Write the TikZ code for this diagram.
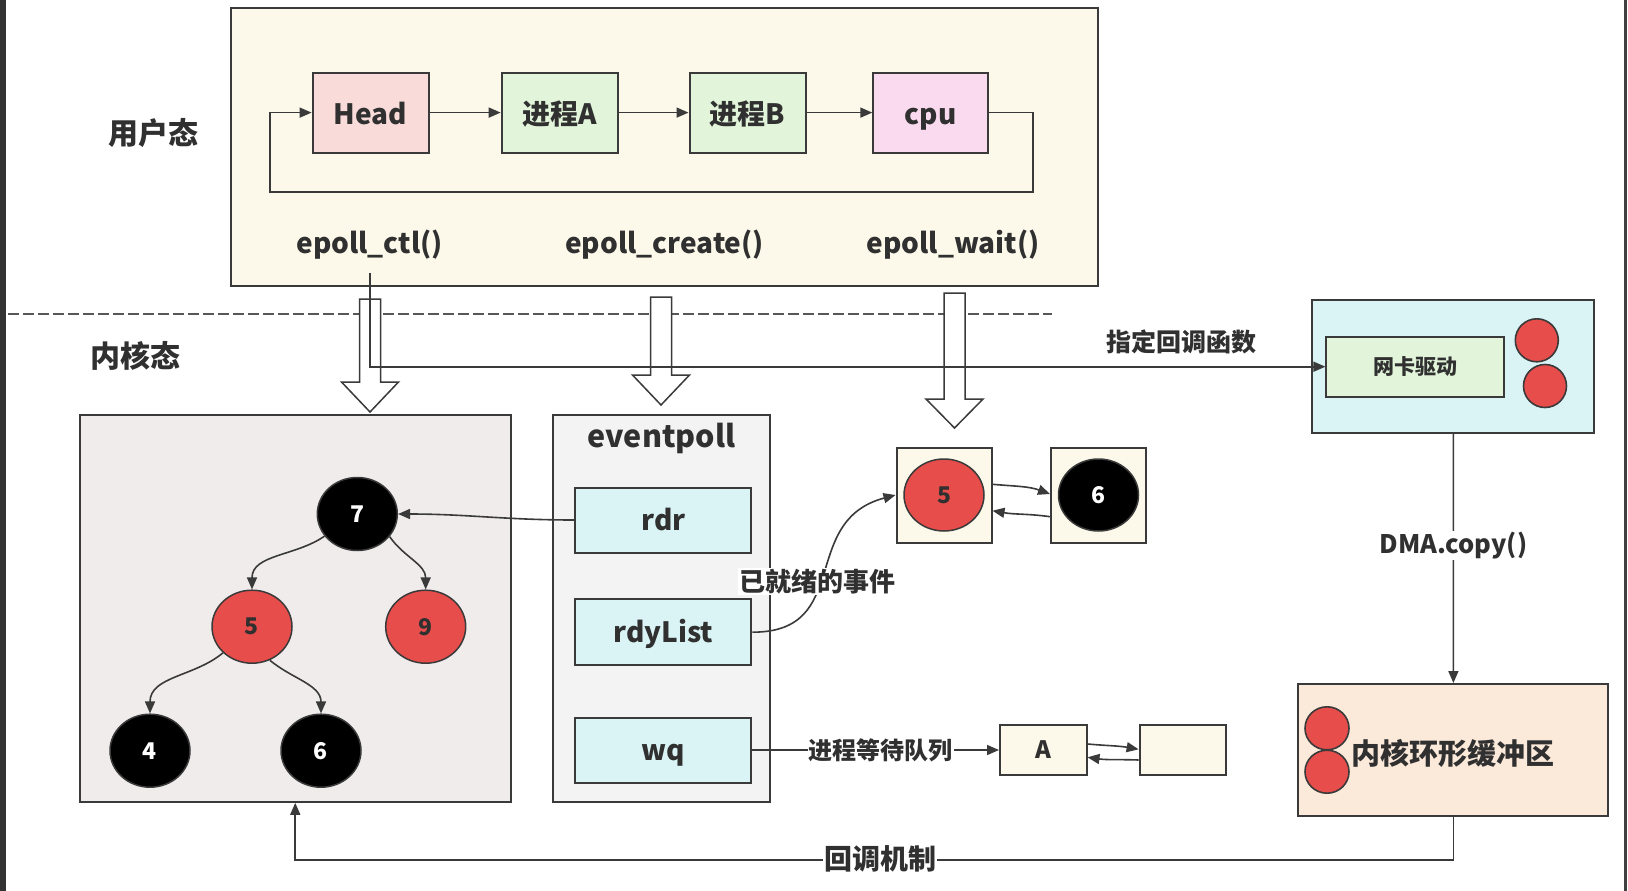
\documentclass[tikz,border=0pt]{standalone}
\usepackage{fontspec}
\setmainfont{Noto Sans CJK SC}
\usepackage{tikz}
\usetikzlibrary{arrows.meta,shapes.geometric}

\definecolor{linegray}{HTML}{3A3A3A}
\definecolor{textgray}{HTML}{303030}
\definecolor{usercream}{HTML}{FCF9EA}
\definecolor{headpink}{HTML}{F9DBD9}
\definecolor{procgreen}{HTML}{E2F5DA}
\definecolor{cpupink}{HTML}{FADAEF}
\definecolor{treegray}{HTML}{F0ECEC}
\definecolor{pollgray}{HTML}{F3F3F3}
\definecolor{fieldcyan}{HTML}{DAF4F6}
\definecolor{rbred}{HTML}{E64D4B}
\definecolor{ringpeach}{HTML}{FBE9DA}

\tikzset{
  fs/.style={font=\bfseries\fontsize{#1}{#1}\selectfont},
  boxed/.style={draw=linegray, line width=2pt, rectangle, inner sep=0pt, text=textgray},
  procbox/.style={boxed, minimum width=116pt, minimum height=80pt, fs=28, text height=22.8pt, text depth=0pt},
  field/.style={boxed, fill=fieldcyan, minimum width=176pt, minimum height=65pt, fs=28, text height=20pt, text depth=0pt},
  rbnode/.style={ellipse, draw=linegray, line width=1.5pt, minimum width=80pt, minimum height=73pt, inner sep=0pt, fs=23},
  rbblack/.style={rbnode, fill=black, text=white},
  rbredn/.style={rbnode, fill=rbred, text=textgray},
  reddot/.style={ellipse, draw=linegray, line width=1.6pt, fill=rbred, inner sep=0pt, minimum width=43pt, minimum height=43pt},
  conn/.style={draw=linegray, line width=1.6pt, -{Triangle[length=12pt,width=10pt]}},
  lbl/.style={text=textgray, inner sep=1pt},
}

\begin{document}
\begin{tikzpicture}[x=1pt,y=-1pt]
\useasboundingbox (0,0) rectangle (1628,891);
\fill[white] (0,0) rectangle (1628,891);
\fill[black!80] (0,0) rectangle (6,891);
\fill[black!75] (1624,0) rectangle (1627,891);

% user space
\node[boxed, fill=usercream, minimum width=867pt, minimum height=277pt] (user) at (664,147) {};
\node[procbox, fill=headpink] (head) at (370.6,112.6) {Head};
\node[procbox, fill=procgreen] (procA) at (559.7,112.6) {进程A};
\node[procbox, fill=procgreen] (procB) at (747.5,112.6) {进程B};
\node[procbox, fill=cpupink, minimum width=115pt] (cpu) at (930.8,112.6) {cpu};
\foreach \a/\b in {head/procA,procA/procB,procB/cpu}
  \draw[conn] (\a) -- (\b);
\coordinate (loopr) at (1033,192);
\coordinate (loopl) at (270,192);
\draw[conn] (cpu.east) -| (loopr) -- (loopl) |- (head.west);

\node[lbl, fs=28] (ctl) at (369.6,245) {epoll\_ctl()};
\node[lbl, fs=28] (create) at (664.5,245) {epoll\_create()};
\node[lbl, fs=28] (wait) at (953.2,245) {epoll\_wait()};

\node[lbl, fs=30] (userlbl) at (153.7,133) {用户态};
\node[lbl, fs=30] (kernlbl) at (135,356) {内核态};

\draw[linegray!85, line width=2pt, dash pattern=on 11pt off 4pt] (8.3,313.6) -- (1052,313.6);

% hollow arrows
\foreach \cx/\yt/\yh/\yp in {370/299/382/412, 661/297/375/405, 954.5/293/399/428}
  \draw[linegray, line width=1.5pt, fill=white]
    (\cx-10.5,\yt) -- (\cx+10.5,\yt) -- (\cx+10.5,\yh) -- (\cx+28.5,\yh)
    -- (\cx,\yp) -- (\cx-28.5,\yh) -- (\cx-10.5,\yh) -- cycle;

% network card
\node[boxed, fill=fieldcyan, minimum width=282pt, minimum height=133pt] (netbox) at (1453.3,366) {};
\node[boxed, fill=procgreen, minimum width=178pt, minimum height=60pt, fs=21] (nic) at (1415.4,366.7) {网卡驱动};
\node[reddot] (nicdota) at (1536.8,340.3) {};
\node[reddot] (nicdotb) at (1545,386) {};
\coordinate (ctlfoot) at (370,273);
\draw[conn] (ctlfoot) |- (nic.west);
\node[lbl, fs=25] (cblbl) at (1181,342) {指定回调函数};

% ring buffer
\node[boxed, fill=ringpeach, minimum width=310pt, minimum height=132pt] (ring) at (1453.4,750) {};
\node[reddot, minimum width=44pt] (ringdota) at (1327,728.3) {};
\node[reddot, minimum width=44pt] (ringdotb) at (1327,771.7) {};
\node[lbl, fs=29] (ringlbl) at (1453,753) {内核环形缓冲区};
\draw[conn] (netbox.south) -- (ring.north) node[pos=0.45, fill=white, lbl, fs=25.5] (dma) {DMA.copy()};

% red-black tree
\node[boxed, fill=treegray, minimum width=431pt, minimum height=387pt] (tree) at (295.25,608.35) {};
\node[rbblack] (t7) at (357.3,514) {7};
\node[rbredn] (t5) at (252,626.7) {5};
\node[rbredn] (t9) at (425.7,626.7) {9};
\node[rbblack] (t4) at (150,750.7) {4};
\node[rbblack] (t6) at (321,750.7) {6};
\draw[conn] (t7.214) to[out=215,in=90] (t5.north);
\draw[conn] (t7.-35) to[out=-55,in=90] (t9.north);
\draw[conn] (t5.222) to[out=220,in=90] (t4.north);
\draw[conn] (t5.-62) to[out=-40,in=90] (t6.north);

% eventpoll
\node[boxed, fill=pollgray, minimum width=217pt, minimum height=387pt] (poll) at (661.7,608.35) {};
\node[lbl, fs=30.5, anchor=base] (polllbl) at (661.7,447) {eventpoll};
\node[field] (rdr) at (663.35,520) {rdr};
\node[field, minimum height=66pt] (rdy) at (663.35,632.2) {rdyList};
\node[field] (wq) at (663.35,750) {wq};
\draw[conn] (rdr.west) to[out=180,in=0] (t7.east);

% ready list
\node[boxed, fill=usercream, minimum width=95pt, minimum height=95pt] (rbox5) at (944,495) {};
\node[boxed, fill=usercream, minimum width=95pt, minimum height=95pt] (rbox6) at (1098.5,495) {};
\node[rbredn, minimum height=72pt] (r5) at (rbox5) {5};
\node[rbblack, minimum height=72pt] (r6) at (rbox6) {6};
\draw[conn] ([yshift=10.7pt]rbox5.east) to[out=-5,in=160] ([yshift=1pt]rbox6.west);
\draw[conn] ([yshift=-21.7pt]rbox6.west) to[out=172,in=-10] ([yshift=-15.7pt]rbox5.east);
\draw[conn] (rdy.east) to[out=0,in=195,looseness=1.3] (rbox5.west);
\node[lbl, fill=white, fs=26] (readylbl) at (817,581.4) {已就绪的事件};

% wait queue
\node[boxed, fill=usercream, minimum width=86.5pt, minimum height=50pt, fs=24] (qa) at (1043.25,750) {A};
\node[boxed, fill=usercream, minimum width=86pt, minimum height=50pt] (qe) at (1182.6,750) {};
\draw[conn] (wq.east) -- (qa.west) node[pos=0.52, fill=white, lbl, fs=24] (wqlbl) {进程等待队列};
\draw[conn] ([yshift=6pt]qa.east) to[out=-5,in=170] ([yshift=0.7pt]qe.west);
\draw[conn] ([yshift=-10pt]qe.west) to[out=178,in=-8] ([yshift=-7.3pt]qa.east);

% callback
\draw[conn] (ring.south) -- ++(0,43) -| (tree.south);
\node[lbl, fill=white, fs=28] (cbmech) at (880,859) {回调机制};
\end{tikzpicture}
\end{document}
